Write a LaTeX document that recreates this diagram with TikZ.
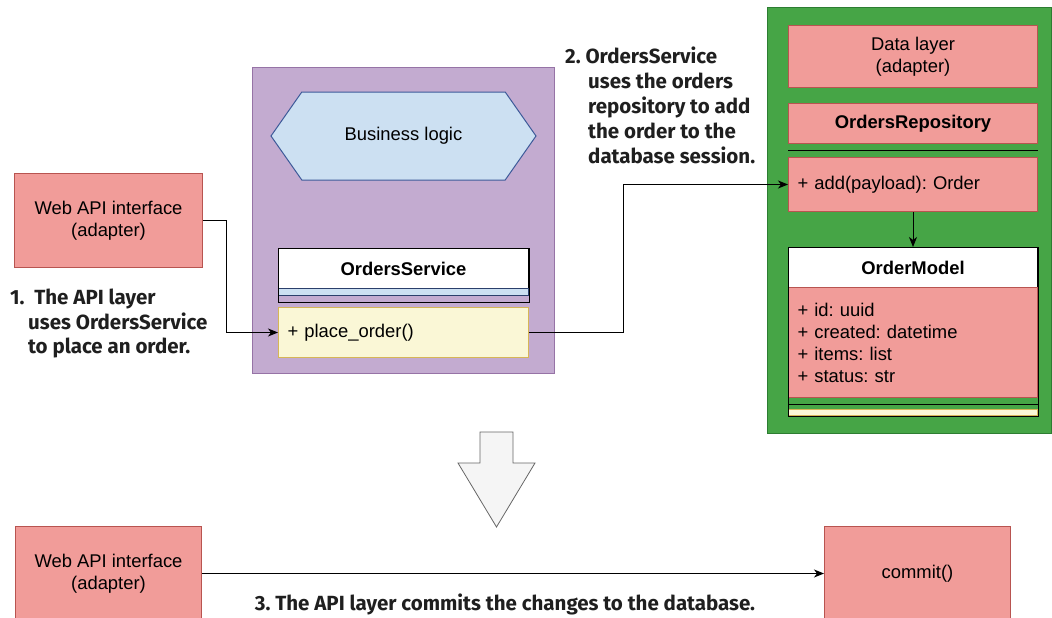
\documentclass[tikz,border=0pt]{standalone}
\usepackage{fontspec}
\setmainfont{Liberation Sans}
\newfontfamily\notefont{Fira Sans}
\usetikzlibrary{arrows.meta,shapes.symbols}
\frenchspacing
\newcommand\boxfont{\fontsize{18.4}{22}\selectfont}
\definecolor{adapterfill}{HTML}{F19C99}
\definecolor{adapterline}{HTML}{B85450}
\definecolor{bizfill}{HTML}{C3ABD0}
\definecolor{bizline}{HTML}{9673A6}
\definecolor{datafill}{HTML}{46A546}
\definecolor{dataline}{HTML}{2D7D32}
\definecolor{logicfill}{HTML}{CCE0F2}
\definecolor{logicline}{HTML}{3D5A99}
\definecolor{opfill}{HTML}{FAF7D6}
\definecolor{opline}{HTML}{D6B656}
\definecolor{stepfill}{HTML}{F5F5F5}
\definecolor{stepline}{HTML}{666666}
\tikzset{
  layer/.style={anchor=north west, inner sep=0pt, line width=1pt},
  adapter/.style={
    anchor=north west, inner sep=0pt, align=center,
    fill=adapterfill, draw=adapterline, line width=1pt
  },
  classhead/.style={
    anchor=north west, inner sep=0pt, draw=black,
    line width=1pt, font=\boxfont\bfseries
  },
  members/.style={
    anchor=north west, inner xsep=9pt, inner ysep=0pt,
    text width=231pt, align=left, line width=1pt
  },
  note/.style={
    font=\notefont\bfseries\fontsize{20.5}{24.5}\selectfont,
    text=black!88, inner sep=0pt, align=left
  },
  flow/.style={
    black, line width=1pt,
    -{Stealth[length=10pt,width=8pt,inset=3pt]}
  }
}

\begin{document}
\begin{tikzpicture}[x=1pt, y=-1pt, font=\boxfont]

  \clip (0,0) rectangle (1052,618);

  % Layers.
  \node[layer, fill=bizfill, draw=bizline, minimum width=302pt,
    minimum height=306pt] (bizlayer) at (252,67) {};
  \node[layer, fill=datafill, draw=dataline, minimum width=284pt,
    minimum height=426pt] (datalayer) at (767,7) {};

  % Business logic and the service class.
  \node[signal, signal to=east and west, signal pointer angle=110,
    fill=logicfill, draw=logicline, line width=1pt, inner sep=0pt,
    minimum width=265pt, minimum height=88pt] (logic) at (403.5,136)
    {Business logic};

  \node[classhead, fill=white, minimum width=250pt, minimum height=40pt]
    (service) at (278,248) {OrdersService};
  \node[layer, fill=logicfill, draw=logicline!70!black,
    minimum width=250pt, minimum height=7pt] (servicefields) at (278,288) {};
  \draw[black, line width=1pt] (service.north west) rectangle
    ([yshift=-13pt]service.south east);
  \node[members, fill=opfill, draw=opline, minimum height=50pt,
    text width=232pt] (placeorder) at (278,307) {+ place\_order()};

  % Adapters.
  \node[adapter, minimum width=188pt, minimum height=94pt] (webapi)
    at (14,173) {Web API interface\\(adapter)};
  \node[adapter, minimum width=249pt, minimum height=62pt] (datalayerbox)
    at (788,25) {Data layer\\(adapter)};

  % Repository class.
  \node[classhead, fill=adapterfill, draw=adapterline,
    minimum width=249pt, minimum height=40pt] (repo) at (788,103)
    {OrdersRepository};
  \draw[black, line width=1pt] ([yshift=-6.5pt]repo.south west) --
    ([yshift=-6.5pt]repo.south east);
  \node[members, fill=adapterfill, draw=adapterline, minimum height=54pt]
    (repoadd) at (788,157) {+ add(payload): Order};

  % Model class.
  \node[classhead, fill=white, minimum width=249pt, minimum height=40pt]
    (model) at (788,247) {OrderModel};
  \node[members, fill=adapterfill, draw=adapterline, minimum height=110pt]
    (modelattrs) at (788,287)
    {+ id: uuid\\+ created: datetime\\+ items: list\\+ status: str};
  \node[layer, fill=opfill, draw=opline, minimum width=249pt,
    minimum height=6pt] (modelops) at (788,409) {};
  \draw[black, line width=1pt] ([yshift=-6pt]modelattrs.south west) --
    ([yshift=-6pt]modelattrs.south east);
  \draw[black, line width=1pt] (model.north west) rectangle
    (modelops.south east);

  % Calls of the first step.
  \draw[flow] (webapi.east) -- ++(23,0) |- (placeorder.west);
  \draw[flow] (placeorder.east) -- ++(94,0) |- (repoadd.west);
  \draw[flow] (repoadd.south) -- (model.north);

  \node[note, anchor=north west] (apinote) at (10,289)
    {1.\ \ The API layer\\\hspace*{18pt}uses OrdersService\\
     \hspace*{18pt}to place an order.};
  \node[note, anchor=north west,
    font=\notefont\bfseries\fontsize{20.5}{25}\selectfont]
    (servicenote) at (565,47)
    {2.\ OrdersService\\\hspace*{23pt}uses the orders\\
     \hspace*{23pt}repository to add\\\hspace*{23pt}the order to the\\
     \hspace*{23pt}database session.};

  % Step arrow.
  \draw[stepline, fill=stepfill, line width=0.8pt]
    (480,432) -- (513,432) -- (513,463) -- (535,463) -- (496.5,527)
    -- (458,463) -- (480,463) -- cycle;

  % Second step.
  \node[adapter, minimum width=186pt, minimum height=94pt] (webapiend)
    at (15,526) {Web API interface\\(adapter)};
  \node[adapter, minimum width=186pt, minimum height=94pt] (commit)
    at (824,526) {commit()};
  \draw[flow] (webapiend.east) -- (commit.west);
  \node[note, anchor=base] (commitnote) at (505,610)
    {3. The API layer commits the changes to the database.};

\end{tikzpicture}
\end{document}
